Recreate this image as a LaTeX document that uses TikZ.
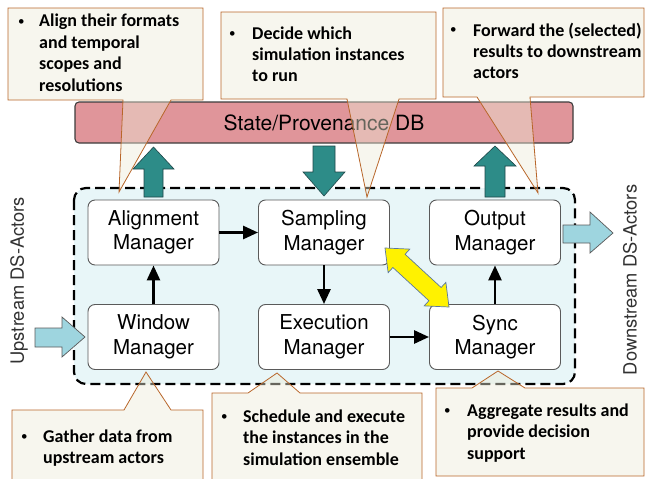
\documentclass[tikz,border=0pt]{standalone}
\usepackage{fontspec}
\setmainfont{TeX Gyre Heros}
\newfontfamily\calfont{Carlito}
\usetikzlibrary{arrows.meta}
\definecolor{dbpink}{RGB}{224,149,154}
\definecolor{dbborder}{RGB}{60,60,60}
\definecolor{tealfill}{RGB}{45,140,136}
\definecolor{tealborder}{RGB}{30,70,72}
\definecolor{cyanbg}{RGB}{232,246,248}
\definecolor{lightblue}{RGB}{158,213,223}
\definecolor{calloutfill}{RGB}{237,235,215}
\definecolor{calloutline}{RGB}{184,102,42}
\definecolor{yellowborder}{RGB}{90,120,160}
\definecolor{boxborder}{RGB}{90,90,90}
\definecolor{sidetext}{RGB}{50,50,50}
\begin{document}
\begin{tikzpicture}[x=1pt,y=-1pt,
  mgr/.style={draw=boxborder, line width=0.9pt, fill=white, rounded corners=7pt,
    minimum width=131pt, minimum height=65pt, inner sep=0pt, align=center,
    font=\fontsize{20.5}{24.5}\selectfont},
  flow/.style={line width=2.7pt, -{Triangle[length=15pt,width=13pt]}},
  callout/.style={draw=calloutline, line width=0.8pt, fill=calloutfill, fill opacity=0.43},
  ctxt/.style={anchor=base west, inner sep=0pt, font=\calfont\bfseries\fontsize{18}{21.5}\selectfont},
  bul/.style={anchor=base west, inner sep=0pt, font=\calfont\fontsize{13}{13}\selectfont},
  tealarrow/.style={fill=tealfill, draw=tealborder, line width=0.6pt},
  bluearrow/.style={fill=lightblue, draw=boxborder, line width=0.7pt},
  sidelabel/.style={rotate=90, text=sidetext, inner sep=0pt, font=\fontsize{18.3}{22}\selectfont}
]
\useasboundingbox (0,0) rectangle (646,479);

% container
\draw[fill=cyanbg, line width=2.2pt, dash pattern=on 10pt off 5pt, rounded corners=12pt]
  (74,188) rectangle (575,384);

% teal arrows
\filldraw[tealarrow] (144,197) -- (144,169) -- (133,169) -- (153.5,147) -- (174,169) -- (163,169) -- (163,197) -- cycle;
\filldraw[tealarrow] (313,146) -- (335,146) -- (335,172) -- (345,172) -- (324,196) -- (303,172) -- (313,172) -- cycle;
\filldraw[tealarrow] (485,197) -- (485,166) -- (474,166) -- (495,146) -- (516,166) -- (505,166) -- (505,197) -- cycle;

% manager boxes
\node[mgr] (am) at (153.5,232.5) {Alignment\\Manager};
\node[mgr] (wm) at (153.5,337) {Window\\Manager};
\node[mgr] (sm) at (324,232.5) {Sampling\\Manager};
\node[mgr] (em) at (324,337) {Execution\\Manager};
\node[mgr] (om) at (495,232.5) {Output\\Manager};
\node[mgr] (sy) at (495,337) {Sync\\Manager};

% flows
\draw[flow] (wm.north) -- (am.south);
\draw[flow] (am.east) -- (sm.west);
\draw[flow] (sm.south) -- (em.north);
\draw[flow] (em.east) -- (sy.west);
\draw[flow] (sy.north) -- (om.south);

% yellow double arrow
\filldraw[fill=yellow, draw=yellowborder, line width=0.7pt]
  (385,248) -- (388.13,272.66) -- (392.88,267.51) -- (428.92,300.73) -- (424.17,305.88)
  -- (449,307) -- (445.87,282.34) -- (441.12,287.49) -- (405.08,254.27) -- (409.83,249.12) -- cycle;

% light blue arrows
\filldraw[bluearrow] (35,328) -- (62,328) -- (62,317) -- (85,337) -- (62,357) -- (62,347) -- (35,347) -- cycle;
\filldraw[bluearrow] (563,225) -- (590,225) -- (590,212) -- (613,233) -- (590,253) -- (590,243) -- (563,243) -- cycle;

% side labels
\node[sidelabel] (up) at (19,281) {Upstream DS-Actors};
\node[sidelabel] (down) at (630,280) {Downstream DS-Actors};

% DB bar
\node[draw=dbborder, line width=1.1pt, fill=dbpink, rounded corners=4pt, minimum width=498pt,
  minimum height=41pt, inner sep=0pt, font=\fontsize{21}{25}\selectfont] (db) at (324,122.5) {State/Provenance DB};

% callouts
\filldraw[callout] (8,8) -- (203,8) -- (203,100) -- (171,100) -- (119,192) -- (123,100) -- (8,100) -- cycle;
\filldraw[callout] (221,12) -- (436,12) -- (436,99) -- (399,99) -- (367,197) -- (347,99) -- (221,99) -- cycle;
\filldraw[callout] (443,8) -- (644,8) -- (644,97) -- (530,97) -- (538,193) -- (477,97) -- (443,97) -- cycle;
\filldraw[callout] (12,410) -- (124,410) -- (146,372) -- (171,410) -- (203,410) -- (203,482) -- (12,482) -- cycle;
\filldraw[callout] (212,393) -- (248,393) -- (277,373) -- (300,393) -- (422,393) -- (422,482) -- (212,482) -- cycle;
\filldraw[callout] (436,388) -- (472,388) -- (498,371) -- (525,388) -- (644,388) -- (644,476) -- (436,476) -- cycle;

% callout texts
\node[bul] (b1) at (18,25) {•};
\node[ctxt] (t1) at (39,27) {\parbox[t]{165pt}{\raggedright Align their formats\\and temporal\\scopes and\\resolutions}};
\node[bul] (b2) at (229,37) {•};
\node[ctxt] (t2) at (252,39) {\parbox[t]{180pt}{\raggedright Decide which\\simulation instances\\to run}};
\node[bul] (b3) at (450,34) {•};
\node[ctxt] (t3) at (473,36) {\parbox[t]{172pt}{\raggedright Forward the (selected)\\results to downstream\\actors}};
\node[bul] (b4) at (21,440) {•};
\node[ctxt] (t4) at (43,442) {\parbox[t]{158pt}{\raggedright Gather data from\\upstream actors}};
\node[bul] (b5) at (221,420) {•};
\node[ctxt] (t5) at (243,422) {\parbox[t]{178pt}{\raggedright Schedule and execute\\the instances in the\\simulation ensemble}};
\node[bul] (b6) at (444,414) {•};
\node[ctxt] (t6) at (467,416) {\parbox[t]{176pt}{\raggedright Aggregate results and\\provide decision\\support}};
\end{tikzpicture}
\end{document}
